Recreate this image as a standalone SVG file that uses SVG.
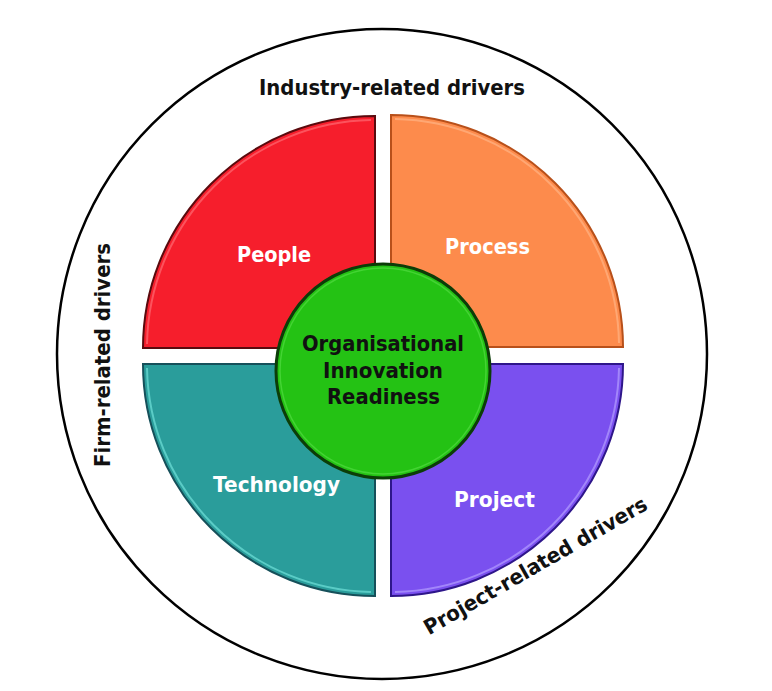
<svg xmlns="http://www.w3.org/2000/svg" width="772" height="691" viewBox="0 0 772 691">
  <style>
    .lbl { font-family: "DejaVu Sans", "Liberation Sans", sans-serif; font-weight: bold; font-size: 21px; text-anchor: middle; }
    .white { fill: #ffffff; }
    .dark { fill: #111111; }
    .hl { fill: none; stroke-width: 2; opacity: 0.7; }
  </style>
  <rect x="0" y="0" width="772" height="691" fill="#ffffff"/>
  <g id="outer-ring">
    <circle cx="382" cy="354" r="325" fill="none" stroke="#000000" stroke-width="2.5"/>
    <text class="lbl dark" x="392" y="95" textLength="266" lengthAdjust="spacingAndGlyphs">Industry-related drivers</text>
    <text class="lbl dark" transform="translate(110,355) rotate(-90)" x="0" y="0" textLength="224" lengthAdjust="spacingAndGlyphs">Firm-related drivers</text>
    <text class="lbl dark" transform="translate(539,572) rotate(-30)" x="0" y="0" textLength="254" lengthAdjust="spacingAndGlyphs">Project-related drivers</text>
  </g>
  <g id="people">
    <path d="M375,348 L143,348 A232,232 0 0 1 375,116 Z" fill="#f61e2c" stroke="#5a0a0e" stroke-width="2"/>
    <path class="hl" d="M147,344 A228,228 0 0 1 371,120" stroke="#ff6a72"/>
    <text class="lbl white" x="274" y="262" textLength="74" lengthAdjust="spacingAndGlyphs">People</text>
  </g>
  <g id="process">
    <path d="M391,347 L391,115 A232,232 0 0 1 623,347 Z" fill="#fd8b4c" stroke="#b8501a" stroke-width="2"/>
    <path class="hl" d="M395,119 A228,228 0 0 1 619,343" stroke="#ffb485"/>
    <text class="lbl white" x="487.5" y="254" textLength="85" lengthAdjust="spacingAndGlyphs">Process</text>
  </g>
  <g id="technology">
    <path d="M375,364 L375,596 A232,232 0 0 1 143,364 Z" fill="#2a9d9b" stroke="#16505a" stroke-width="2"/>
    <path class="hl" d="M371,592 A228,228 0 0 1 147,368" stroke="#6fe0d8"/>
    <text class="lbl white" x="276.5" y="492" textLength="127" lengthAdjust="spacingAndGlyphs">Technology</text>
  </g>
  <g id="project">
    <path d="M391,364 L623,364 A232,232 0 0 1 391,596 Z" fill="#7a50ef" stroke="#2e168a" stroke-width="2"/>
    <path class="hl" d="M619,368 A228,228 0 0 1 395,592" stroke="#b49cff"/>
    <text class="lbl white" x="494.5" y="507" textLength="81" lengthAdjust="spacingAndGlyphs">Project</text>
  </g>
  <g id="readiness">
    <circle cx="383" cy="371" r="107" fill="#24c214" stroke="#0c3d08" stroke-width="3"/>
    <circle cx="383" cy="371" r="103" fill="none" stroke="#58e048" stroke-width="1.5" opacity="0.6"/>
    <text class="lbl dark" x="383" y="351" textLength="162" lengthAdjust="spacingAndGlyphs">Organisational</text>
    <text class="lbl dark" x="383" y="378" textLength="120" lengthAdjust="spacingAndGlyphs">Innovation</text>
    <text class="lbl dark" x="383.5" y="404" textLength="113" lengthAdjust="spacingAndGlyphs">Readiness</text>
  </g>
  <g id="connectors"/>
</svg>
